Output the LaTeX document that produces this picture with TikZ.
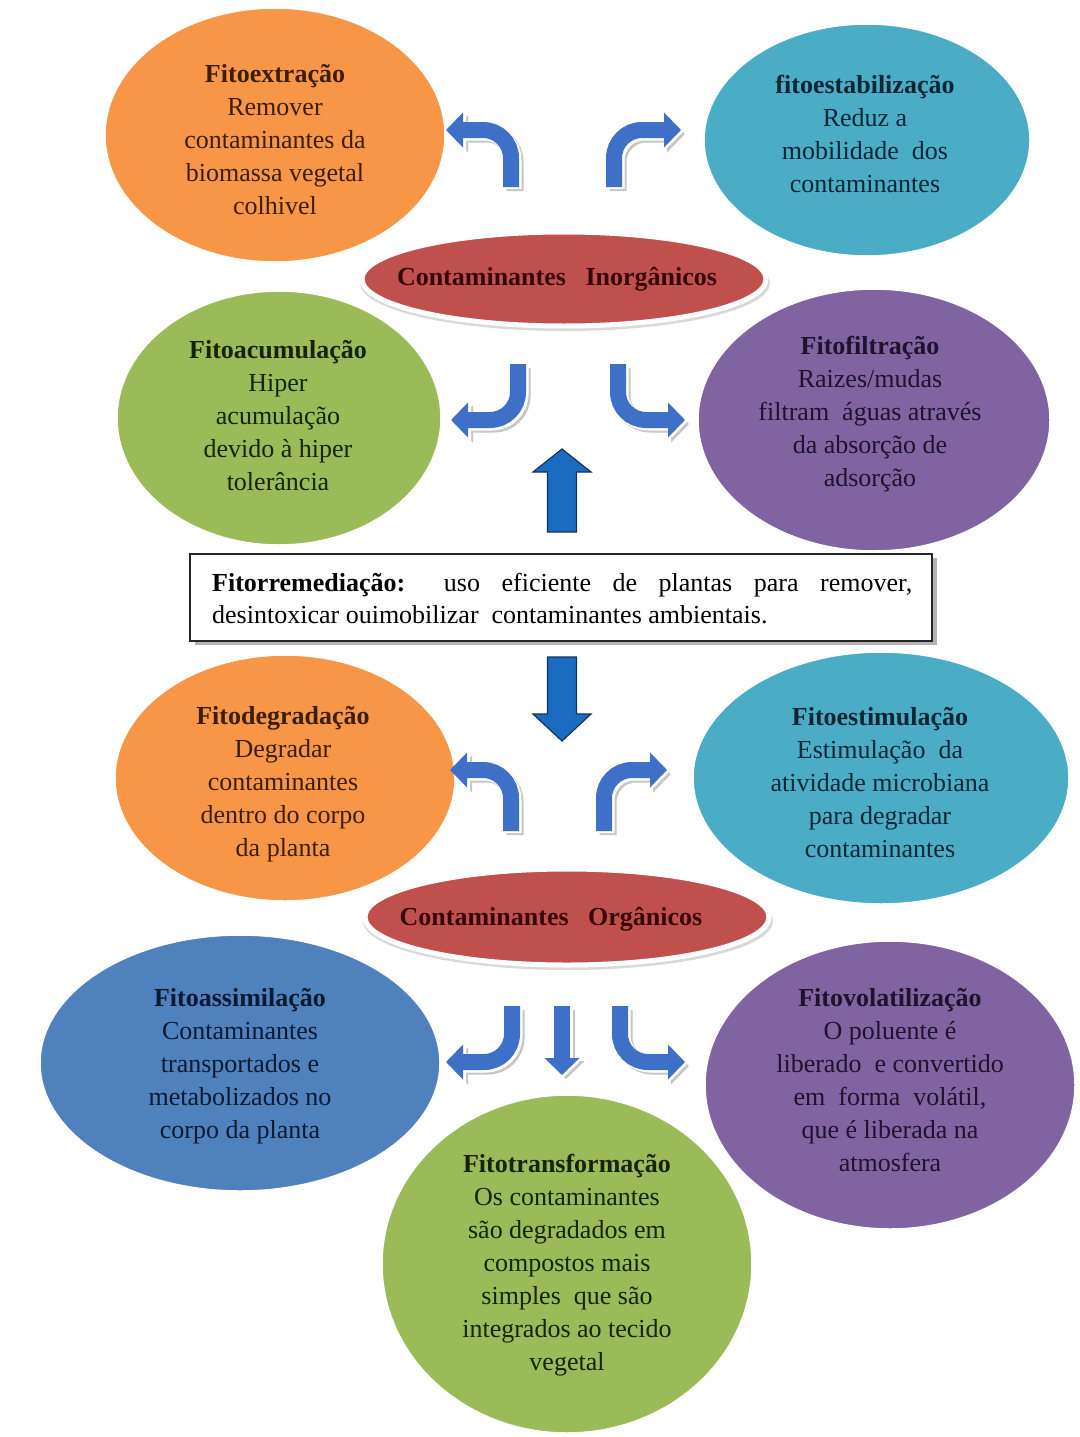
\documentclass[tikz,border=0pt]{standalone}
\usepackage{fontspec}
\setmainfont{Liberation Serif}
\usetikzlibrary{arrows.meta,shapes.geometric}
\definecolor{cOr}{RGB}{247,150,70}
\definecolor{cTe}{RGB}{75,172,198}
\definecolor{cRe}{RGB}{192,80,77}
\definecolor{cGr}{RGB}{155,187,89}
\definecolor{cPu}{RGB}{128,100,162}
\definecolor{cBl}{RGB}{79,129,189}
\definecolor{tOr}{RGB}{60,30,8}
\definecolor{tTe}{RGB}{12,38,52}
\definecolor{tRe}{RGB}{55,8,8}
\definecolor{tGr}{RGB}{22,35,8}
\definecolor{tPu}{RGB}{30,18,45}
\definecolor{tBl}{RGB}{12,25,48}
\definecolor{cArr}{RGB}{62,112,200}
\definecolor{cFat}{RGB}{26,108,192}
\definecolor{cFatD}{RGB}{20,50,90}
\begin{document}
\begin{tikzpicture}[x=1pt,y=-1pt,
  blob/.style={ellipse,draw=white,line width=1.5pt,inner sep=0pt},
  txt/.style={align=center,inner sep=0pt,font=\fontsize{26}{33}\selectfont},
  redblob/.style={ellipse,fill=cRe,draw=white,line width=5pt,inner sep=0pt,minimum width=404,minimum height=94},
  barrow/.style={line width=16pt,color=cArr,rounded corners=28pt,-{Triangle[width=34pt,length=17pt]}},
  bshadow/.style={line width=17pt,color=gray!45,rounded corners=28pt,-{Triangle[width=36pt,length=18pt]},transform canvas={shift={(4pt,-4pt)}}},
  bwhite/.style={line width=17pt,color=white,rounded corners=28pt,-{Triangle[width=36pt,length=18pt]},transform canvas={shift={(2pt,-2pt)}}},
  fat/.style={fill=cFat,draw=cFatD,line width=1.2pt,line join=miter}]
\useasboundingbox (0,0) rectangle (1079,1437);
\fill[white] (0,0) rectangle (1079,1437);

% ---------- upper group ----------
\node[blob,fill=cOr,minimum width=340,minimum height=254] (eExt) at (275,135) {};
\node[blob,fill=cTe,minimum width=326,minimum height=232] (eEst) at (867,140) {};
\node[blob,fill=cGr,minimum width=324,minimum height=254] (eAcu) at (279,418) {};
\node[blob,fill=cPu,minimum width=352,minimum height=262] (eFil) at (874,420) {};

\fill[gray!30] (565,283) ellipse [x radius=205, y radius=48];
\node[redblob] (eIno) at (564,279) {};

\node[txt,text=tOr] (tExt) at (275,140) {\textbf{Fitoextração}\\Remover\\contaminantes da\\biomassa vegetal\\colhivel};
\node[txt,text=tTe] (tEst) at (865,134) {\textbf{fitoestabilização}\\Reduz a\\mobilidade\ \ dos\\contaminantes};
\node[txt,text=tGr] (tAcu) at (278,416) {\textbf{Fitoacumulação}\\Hiper\\acumulação\\devido à hiper\\tolerância};
\node[txt,text=tPu] (tFil) at (870,414) {\textbf{Fitofiltração}\\Raizes/mudas\\filtram\ \ águas através\\da absorção de\\adsorção};
\node[txt,text=tRe] (tIno) at (557,279) {\textbf{Contaminantes\ \ \ Inorgânicos}};

\coordinate (a1s) at (511,187); \coordinate (a1e) at (446,130);
\coordinate (a2s) at (614,187); \coordinate (a2e) at (681,130);
\coordinate (a3s) at (518,364); \coordinate (a3e) at (451,420);
\coordinate (a4s) at (618,364); \coordinate (a4e) at (685,420);
\foreach \s/\e in {a1s/a1e,a2s/a2e,a3s/a3e,a4s/a4e}{
  \draw[bshadow] (\s) |- (\e);
  \draw[bwhite] (\s) |- (\e);
  \draw[barrow] (\s) |- (\e);
}

% ---------- central box ----------
\coordinate (up) at (562,532);
\draw[fat] (up) ++(-14.5,0) -- ++(0,-60) -- ++(-14.5,0) -- (562,449) -- (591,472) -- ++(-14.5,0) -- ++(0,60) -- cycle;

\fill[gray!60] (195,558) rectangle (937,645);
\node[draw=gray!30!black,line width=2pt,fill=white,minimum width=742,minimum height=87,inner sep=0pt] (box) at (561,597) {};
\node[anchor=west,align=left,inner sep=0pt,font=\fontsize{26}{32}\selectfont] (tBox) at (212,599)
  {\makebox[700pt][s]{\textbf{Fitorremediação:} uso eficiente de plantas para remover,}\\desintoxicar ouimobilizar\ \ contaminantes ambientais.};

\coordinate (dn) at (562,657);
\draw[fat] (dn) ++(-14.5,0) -- ++(0,57) -- ++(-14.5,0) -- (562,741) -- (591,714) -- ++(-14.5,0) -- ++(0,-57) -- cycle;

% ---------- lower group ----------
\node[blob,fill=cOr,minimum width=340,minimum height=246] (eDeg) at (285,778) {};
\node[blob,fill=cTe,minimum width=376,minimum height=252] (eEsm) at (881,778) {};
\node[blob,fill=cBl,minimum width=400,minimum height=256] (eAss) at (240,1063) {};
\node[blob,fill=cGr,minimum width=370,minimum height=338] (eTra) at (567,1264) {};
\node[blob,fill=cPu,minimum width=370,minimum height=288] (eVol) at (890,1085) {};

\fill[gray!30] (568,921) ellipse [x radius=205, y radius=49];
\node[redblob,minimum height=96] (eOrg) at (567,917) {};

\node[txt,text=tOr] (tDeg) at (283,784) {\textbf{Fitodegradação}\\Degradar\\contaminantes\\dentro do corpo\\da planta};
\node[txt,text=tTe] (tEsm) at (880,783) {\textbf{Fitoestimulação}\\Estimulação\ \ da\\atividade microbiana\\para degradar\\contaminantes};
\node[txt,text=tRe] (tOrg) at (551,919) {\textbf{Contaminantes\ \ \ Orgânicos}};
\node[txt,text=tBl] (tAss) at (240,1066) {\textbf{Fitoassimilação}\\Contaminantes\\transportados e\\metabolizados no\\corpo da planta};
\node[txt,text=tPu] (tVol) at (890,1080) {\textbf{Fitovolatilização}\\O poluente é\\liberado\ \ e convertido\\em\ \ forma\ \ volátil,\\que é liberada na\\atmosfera};
\node[txt,text=tGr] (tTra) at (567,1265) {\textbf{Fitotransformação}\\Os contaminantes\\são degradados em\\compostos mais\\simples\ \ que são\\integrados ao tecido\\vegetal};

\coordinate (b1s) at (511,831); \coordinate (b1e) at (450,770);
\coordinate (b2s) at (604,831); \coordinate (b2e) at (667,770);
\coordinate (b3s) at (512,1006); \coordinate (b3e) at (446,1062);
\coordinate (b5s) at (620,1006); \coordinate (b5e) at (685,1062);
\foreach \s/\e in {b1s/b1e,b2s/b2e,b3s/b3e,b5s/b5e}{
  \draw[bshadow] (\s) |- (\e);
  \draw[bwhite] (\s) |- (\e);
  \draw[barrow] (\s) |- (\e);
}
\coordinate (b4s) at (562,1006); \coordinate (b4e) at (562,1075);
\draw[bshadow] (b4s) -- (b4e);
\draw[bwhite] (b4s) -- (b4e);
\draw[barrow] (b4s) -- (b4e);
\end{tikzpicture}
\end{document}
